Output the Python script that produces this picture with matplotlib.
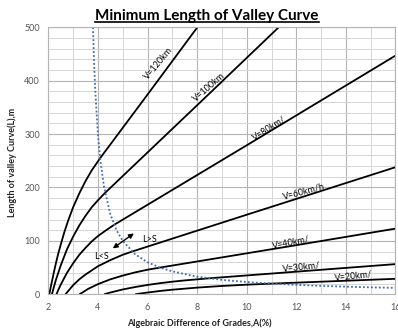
# -*- coding: utf-8 -*-
"""
Minimum length of valley curve against algebraic difference of grades,
one curve per design speed plus the L = S boundary.
"""

import matplotlib
matplotlib.use("Agg")
import matplotlib.pyplot as plt
from matplotlib.lines import Line2D

# Design speed curves: grade difference A (%) and curve length L (m)
a_v120 = [2.04, 2.1, 2.2, 2.3, 2.4, 2.5, 2.65, 2.8, 3.0, 3.25, 3.5, 3.75, 4.09, 6.0, 8.01]
l_v120 = [0, 14, 36, 57, 76, 93, 117, 138, 163, 189, 212, 232, 255, 374, 500]

a_v100 = [2.145, 2.2, 2.3, 2.4, 2.5, 2.75, 3.0, 3.25, 3.5, 3.75, 4.0, 4.29, 8.0, 11.29]
l_v100 = [0, 9.5, 26, 40, 54, 84, 108, 129, 147, 163, 176, 190, 354, 500]

a_v80 = [2.33, 2.4, 2.5, 2.75, 3.0, 3.25, 3.5, 3.75, 4.0, 4.3, 4.65, 10.0, 16.0]
l_v80 = [0, 8, 18, 40, 58, 74, 87, 99, 109, 119, 130, 279, 447]

a_v60 = [2.69, 2.8, 3.0, 3.25, 3.5, 4.0, 4.5, 5.0, 5.375, 10.0, 16.0]
l_v60 = [0, 6, 17, 28, 37, 52.5, 64, 74, 80, 149, 238]

a_v40 = [3.25, 3.4, 3.6, 3.8, 4.0, 4.5, 5.0, 5.5, 6.0, 6.5, 12.0, 16.0]
l_v40 = [0, 4, 10, 14.5, 19, 28, 35, 41, 46, 50, 92, 123]

a_v30 = [4.25, 4.5, 5.0, 5.5, 6.0, 6.5, 7.0, 7.5, 8.5, 16.0]
l_v30 = [0, 3.3, 9, 13.6, 17.5, 20.8, 23.6, 26, 30, 56.5]

a_v20 = [5.5, 6.0, 6.5, 7.0, 8.0, 9.0, 10.0, 11.0, 16.0]
l_v20 = [0, 3.3, 6.2, 8.6, 12.5, 15.6, 18, 20, 29]

# Boundary where curve length equals sight distance
a_ls = [3.8, 3.85, 3.9, 4.0, 4.1, 4.25, 4.5, 4.75, 5.0, 5.5, 6.0, 6.5, 7.0,
        8.0, 9.0, 10.0, 11.0, 12.0, 13.0, 14.0, 15.0, 16.0]
l_ls = [500, 429, 375, 300, 250, 200, 150, 120, 100, 75, 60, 50, 43,
        33, 27, 23, 20, 17.6, 15.8, 14.3, 13, 12]

x_ticks = [2, 4, 6, 8, 10, 12, 14, 16]
y_ticks = [0, 100, 200, 300, 400, 500]


def draw_chart(output_path="out.png"):
    plt.rcParams["font.family"] = ["Lato", "DejaVu Sans"]

    fig = plt.figure(figsize=(3.98, 3.31), dpi=100)
    ax = fig.add_axes([0.1214, 0.1109, 0.8723, 0.8066])

    ax.set_xlim(2, 16)
    ax.set_ylim(0, 500)
    ax.set_xticks(x_ticks)
    ax.set_yticks(y_ticks)
    ax.set_xticks(range(2, 17), minor=True)
    ax.set_yticks(range(0, 501, 20), minor=True)
    ax.grid(which="major", color="#b4b4b4", linewidth=0.8)
    ax.grid(which="minor", color="#d6d6d6", linewidth=0.7)
    ax.set_axisbelow(True)
    ax.tick_params(which="both", length=0, labelsize=6.5, labelcolor="#555555", pad=6)
    for sp in ax.spines.values():
        sp.set_color("#b4b4b4")
        sp.set_linewidth(0.8)

    curves = [(a_v120, l_v120), (a_v100, l_v100), (a_v80, l_v80), (a_v60, l_v60),
              (a_v40, l_v40), (a_v30, l_v30), (a_v20, l_v20)]
    for a, l in curves:
        ax.plot(a, l, color="black", linewidth=1.3, solid_capstyle="butt", clip_on=True)

    ax.plot(a_ls, l_ls, color="#3f6fb0", linewidth=1.3, linestyle=(0, (1, 1.2)))

    # speed labels sitting along each line
    labels = [
        ("V=120km", 6.45, 432, 50),
        ("V=100km", 8.5, 388, 41),
        ("V=80km/", 10.9, 311, 33),
        ("V=60km/h", 12.3, 193, 15),
        ("V=40km/", 11.8, 97, 11),
        ("V=30km/", 12.2, 51, 6),
        ("V=20km/", 14.3, 34, 6),
    ]
    for txt, x, y, rot in labels:
        ax.text(x, y, txt, fontsize=6.5, rotation=rot, ha="center", va="center",
                rotation_mode="anchor")

    ax.text(6.1, 102, "L>S", fontsize=6.5, ha="center", va="center")
    ax.text(4.13, 70, "L<S", fontsize=6.5, ha="center", va="center")
    ax.annotate("", xy=(4.6, 86), xytext=(5.45, 114),
                arrowprops=dict(arrowstyle="<|-|>", color="black", lw=1.0,
                                mutation_scale=7, shrinkA=0, shrinkB=0))

    fig.text(0.5, 0.022, "Algebraic Difference of Grades,A(%)", fontsize=6.5,
             fontweight="bold", ha="center", va="center", color="#222222")
    fig.text(0.03, 0.51, "Length of valley Curve(L),m", fontsize=6.5,
             fontweight="bold", ha="center", va="center", rotation=90, color="#222222")

    title = fig.text(0.52, 0.953, "Minimum Length of Valley Curve", fontsize=11,
                     fontweight="bold", ha="center", va="center")

    # underline the title
    fig.canvas.draw()
    bb = title.get_window_extent().transformed(fig.transFigure.inverted())
    fig.add_artist(Line2D([bb.x0, bb.x1], [bb.y0 + 0.003, bb.y0 + 0.003],
                          transform=fig.transFigure, color="black", linewidth=1.2))

    fig.savefig(output_path, dpi=100)
    plt.close(fig)
    return output_path


if __name__ == "__main__":
    draw_chart("out.png")
